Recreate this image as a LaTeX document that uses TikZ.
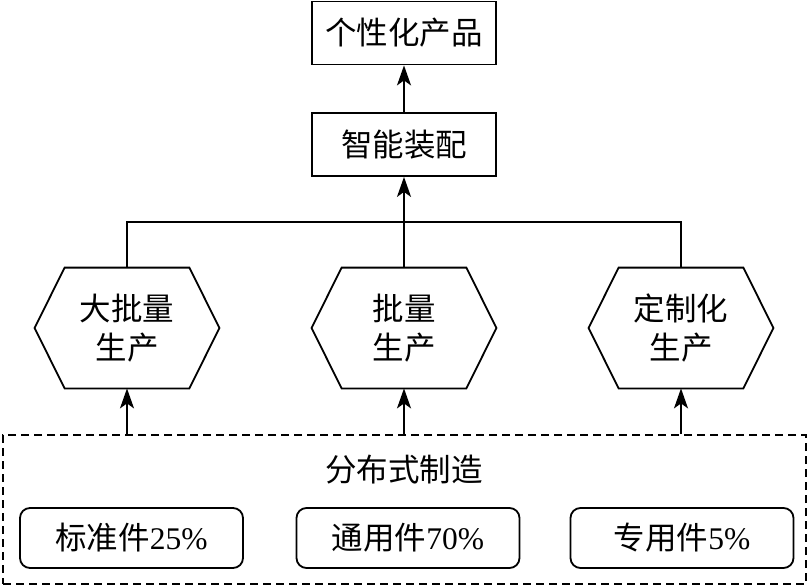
\documentclass[tikz,border=0pt]{standalone}
\usepackage{fontspec}
\setmainfont{Liberation Serif}
\newfontfamily\cjk{Noto Sans CJK SC}
\usetikzlibrary{arrows.meta,calc}
\begin{document}
\begin{tikzpicture}[x=1pt,y=-1pt, line width=1.8pt,
  font=\fontsize{31.5}{39}\selectfont\cjk,
  box/.style={draw, minimum width=184pt, minimum height=63pt, inner sep=0pt},
  hexnode/.style={minimum width=183pt, minimum height=119pt, inner sep=0pt, align=center},
  part/.style={draw, rounded corners=10pt, minimum width=223pt, minimum height=60pt, inner sep=0pt},
  arr/.style={-{Stealth[length=20pt,width=14pt,inset=5pt]}},
  distbox/.style={draw, dash pattern=on 8pt off 5pt, minimum width=803pt, minimum height=149pt, inner sep=0pt}]
\useasboundingbox (0,0) rectangle (809,587);
\node[box] (prod) at (404,33) {个性化产品};
\node[box] (asm) at (404,144.5) {智能装配};
\node[hexnode] (h1) at (127,328) {大批量\\生产};
\node[hexnode] (h2) at (404,328) {批量\\生产};
\node[hexnode] (h3) at (681,328) {定制化\\生产};
\foreach \n in {h1,h2,h3}
  \draw (\n.west) -- ($(\n.north west)+(30,0)$) -- ($(\n.north east)+(-30,0)$) -- (\n.east)
        -- ($(\n.south east)+(-30,0)$) -- ($(\n.south west)+(30,0)$) -- cycle;
\node[distbox] (dist) at (404.5,509.5) {};
\node (distlbl) at (404,470) {分布式制造};
\node[part] (p1) at (131.5,538) {标准件{\rmfamily 25\%}};
\node[part] (p2) at (408,538) {通用件{\rmfamily 70\%}};
\node[part] (p3) at (682,538) {专用件{\rmfamily 5\%}};
\coordinate (bus) at (404,222);
\draw[arr] (asm) -- (prod);
\draw (h1.north) -- (h1.north |- bus) -- (h3.north |- bus) -- (h3.north);
\draw[arr] (h2.north) -- (asm.south);
\foreach \n in {h1,h2,h3}
  \draw[arr] (dist.north -| \n.south) -- (\n.south);
\end{tikzpicture}
\end{document}
